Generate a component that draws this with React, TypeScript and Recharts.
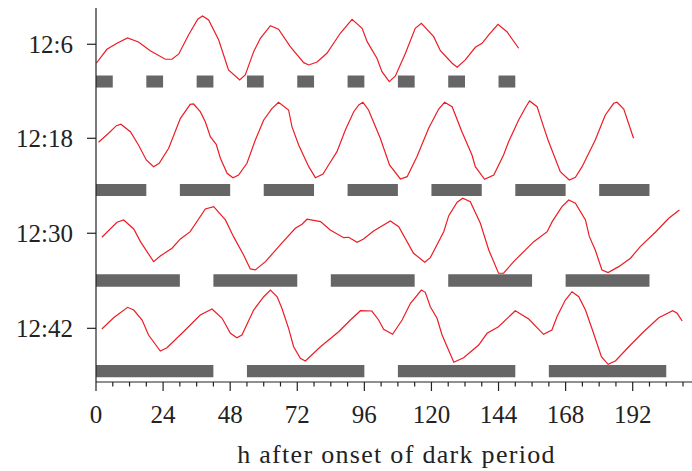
import { ComposedChart, Line, XAxis, YAxis, ReferenceArea, Label } from "recharts";

// hours after onset of dark period, major ticks labelled every 24 h
const HOUR_TICKS = [0, 6, 12, 18, 24, 30, 36, 42, 48, 54, 60, 66, 72, 78, 84, 90, 96, 102, 108, 114, 120, 126, 132, 138, 144, 150, 156, 162, 168, 174, 180, 186, 192, 198, 204, 210];

const PANEL_LABELS = ["12:6", "12:18", "12:30", "12:42"];
// row baselines on the stacked y scale
const PANEL_TICKS = [3.567, 2.574, 1.571, 0.567];
// where the dark-period strip sits in each row
const STRIP_RANGES = [
  [3.11, 3.237],
  [1.964, 2.091],
  [1.006, 1.137],
  [0.049, 0.179],
];

// dark periods [start, end] in hours
const DARK_6 = [[0, 6], [18, 24], [36, 42], [54, 60], [72, 78], [90, 96], [108, 114], [126, 132], [144, 150]];
const DARK_18 = [[0, 18], [30, 48], [60, 78], [90, 108], [120, 138], [150, 168], [180, 198]];
const DARK_30 = [[0, 30], [42, 72], [84, 114], [126, 156], [168, 198]];
const DARK_42 = [[0, 42], [54, 96], [108, 150], [162, 204]];

// rhythm traces [hour, signal] (signal in a.u., relative to row baseline)
const TRACE_6 = [
  [0.1, -19], [3.9, -5], [7.5, 1], [11.3, 6.3], [15.2, 2.3], [19.4, -6.4], [24.8, -15], [27.2, -15],
  [29.6, -9.7], [33.1, 9.3], [36.4, 25], [38.1, 28.3], [40.3, 24.3], [43.9, 4.3], [47.4, -25.7],
  [51.4, -35.7], [53.4, -30.7], [56.4, -7.4], [58.8, 6], [62.4, 18.6], [65.3, 15], [69.5, -2.4],
  [74.3, -18.4], [76.1, -20.7], [79.1, -17.7], [82.6, -9], [87.4, 11], [91.6, 25], [95.2, 16],
  [97, 2.6], [100.5, -14], [102.3, -27.4], [104.9, -37.4], [107.1, -31.7], [110.7, -9], [114.2, 16],
  [116.4, 21], [120.8, 7.6], [123.2, -6.4], [127.4, -19], [129.2, -23], [132.1, -15.7], [135.7, -3],
  [138.1, 1], [140.5, 9.3], [143.8, 20], [147, 12.6], [151.2, -4],
];
const TRACE_18 = [
  [0.9, -4], [4.5, 5], [7.3, 12.6], [8.9, 14], [12.3, 6.6], [15.2, -6.7], [18, -21.7], [20.6, -28.4],
  [22.6, -25], [26, -10], [30.2, 20], [33.7, 34], [34.9, 34.3], [37.3, 26.6], [39.1, 16.6], [40.9, 1.6],
  [43, -6], [44.5, -20], [46.9, -35], [49, -39.4], [51, -36.7], [54, -25], [57, -1.7], [60, 18.3],
  [63, 30], [65.3, 36], [68.9, 28.3], [70.1, 11.6], [72.5, -6.7], [76.1, -28.4], [78.5, -39.4],
  [81.2, -35.7], [83.2, -26.7], [86.2, -13.4], [89.2, 8.3], [92.2, 26.6], [94, 33.3], [95.5, 36],
  [97.5, 28.3], [101.7, 0], [105, -26.7], [108.9, -40.7], [111.3, -38.4], [114.8, -18.4], [119, 10],
  [122.6, 29.3], [124.7, 36], [127.4, 31.6], [130.9, 6.6], [134.5, -16.7], [135.7, -28.4], [139, -41],
  [142.3, -36.7], [145.8, -16.7], [147.6, -3.4], [151.2, 18.3], [153.6, 30.6], [155.1, 37.3],
  [157.8, 31.6], [160.1, 11.6], [161.7, -1.7], [166.1, -33.4], [169.3, -41.7], [171.5, -39],
  [173.9, -28.4], [178.6, -1.7], [182.2, 23.3], [185.2, 35], [186.4, 36], [188.8, 29.3], [192.3, 0],
];
const TRACE_30 = [
  [2.1, -4], [7.5, 11], [9.9, 13.3], [13.5, 4.3], [15.9, -8.4], [20.6, -28.4], [23, -22.7], [27.2, -15],
  [30.2, -5.7], [33.7, 1.6], [39.1, 24.3], [42.1, 26.6], [46.3, 13.3], [49.2, -3.4], [52.8, -21.7],
  [55.2, -35.7], [57, -36.7], [60.6, -28.4], [65.9, -11.7], [71.3, 5], [73.7, 9], [75.5, 14],
  [80.3, 11.6], [83.8, 3.3], [88.6, -4.4], [90.4, -4], [93.4, -9], [95.7, -5.7], [99.3, 2.3],
  [105.3, 12.3], [108.3, 6.6], [113.6, -20], [117.6, -29], [119.6, -24.4], [124.4, 1.6], [126.2, 17.6],
  [129.2, 31], [131.2, 35], [133.9, 31.6], [137.5, 10], [140.5, -16.7], [144, -40], [145.8, -40],
  [149.4, -28.4], [156.6, -8.4], [161.4, 1.6], [163.2, 11.6], [166.7, 26.6], [169.1, 33.3],
  [171.5, 30], [175.1, 13.3], [176.5, -3.4], [178.6, -16.7], [181, -36.7], [183.2, -39.4],
  [187, -33.4], [191.2, -25], [194.7, -13.4], [200.1, 1], [204.9, 15], [208.7, 23.3],
];
const TRACE_42 = [
  [2.1, -0.7], [6.3, 10.6], [11.3, 21], [13.5, 18.3], [16.5, 8.3], [18.8, -6.7], [23, -22.7],
  [25.4, -19.4], [31.3, -3.4], [37.3, 13.3], [41.5, 19.3], [45.1, 10], [48.1, -5], [50.4, -9.4],
  [52.2, -6.7], [56.4, 18.3], [60, 31.6], [62.4, 38.3], [64.8, 31.6], [66.5, 20], [68.9, 0],
  [70.7, -18.4], [73.1, -30], [74.9, -32.7], [80.3, -18.4], [86.8, -3.4], [91, 8.3], [94.6, 17.6],
  [98.7, 17.3], [101.1, 8.3], [102.9, -1], [106.1, -6], [109.5, 8.3], [112.5, 25], [116.4, 38.3],
  [117.8, 36], [119.6, 21.6], [122, 10], [123.8, -6.7], [128, -34], [131.5, -29.4], [136.9, -16.7],
  [139.9, -5], [144, 1.6], [150, 17.6], [154.8, 9.3], [160.1, -6], [163.1, -1.7], [164.9, 11.6],
  [167.9, 28.3], [170.3, 36.6], [172.7, 31.6], [175.1, 18.3], [178, -5], [180.8, -28.4], [183.2, -36],
  [185.8, -32.7], [191.2, -16.7], [195.9, -3.4], [201.3, 10.6], [206.3, 17.6], [207.9, 15], [209.7, 7.3],
];

const TRACES = [TRACE_6, TRACE_18, TRACE_30, TRACE_42];
const DARKS = [DARK_6, DARK_18, DARK_30, DARK_42];

const SIGNAL_SCALE = 1 / 94.7;
const INK = "#222";
const RED = "#ec1c24";

const rows = TRACES.map((trace, i) =>
  trace.map(([h, v]) => ({ h, y: PANEL_TICKS[i] + v * SIGNAL_SCALE }))
);

const HourTick = (props: any) => {
  const { x, y, payload } = props;
  const major = payload.value % 24 === 0;
  return (
    <g>
      <line x1={x} x2={x} y1={y} y2={y + (major ? 9 : 4.5)} stroke={INK} strokeWidth={1.2} />
      {major && (
        <text x={x} y={y + 40.5} textAnchor="middle" fontSize={25} fill={INK}>
          {payload.value}
        </text>
      )}
    </g>
  );
};

export default function App() {
  return (
    <div
      style={{
        position: "absolute",
        left: 0,
        top: 0,
        width: 692,
        height: 471,
        overflow: "hidden",
        background: "#fff",
        fontFamily: "'Liberation Serif', serif",
      }}
    >
      <ComposedChart width={700} height={471} margin={{ top: 8, right: 3, bottom: 0, left: 0 }}>
        <XAxis
          dataKey="h"
          type="number"
          domain={[0, 215]}
          allowDataOverflow
          ticks={HOUR_TICKS}
          interval={0}
          tick={<HourTick />}
          tickLine={false}
          tickSize={0}
          tickMargin={0}
          height={89}
          axisLine={{ stroke: INK, strokeWidth: 1.2 }}
        >
          <Label
            value="h after onset of dark period"
            position="insideBottom"
            offset={8}
            fontSize={26}
            fill={INK}
            style={{ letterSpacing: "1.3px" }}
          />
        </XAxis>
        <XAxis
          xAxisId="top"
          orientation="top"
          dataKey="h"
          type="number"
          domain={[0, 215]}
          height={0}
          tick={false}
          tickLine={false}
          axisLine={{ stroke: INK, strokeWidth: 1.2 }}
        />
        <YAxis
          type="number"
          domain={[0, 3.95]}
          allowDataOverflow
          ticks={PANEL_TICKS}
          interval={0}
          width={96}
          tickSize={9}
          tickMargin={14}
          tickFormatter={(v: number) => PANEL_LABELS[PANEL_TICKS.indexOf(v)] ?? ""}
          tick={{ fontSize: 25, fill: INK }}
          tickLine={{ stroke: INK, strokeWidth: 1.2 }}
          axisLine={{ stroke: INK, strokeWidth: 1.2 }}
        />
        {DARKS.map((periods, i) =>
          periods.map(([a, b]) => (
            <ReferenceArea
              key={`dark-${i}-${a}`}
              x1={a}
              x2={b}
              y1={STRIP_RANGES[i][0]}
              y2={STRIP_RANGES[i][1]}
              fill="#666"
              fillOpacity={1}
              stroke="none"
            />
          ))
        )}
        {rows.map((data, i) => (
          <Line
            key={PANEL_LABELS[i]}
            data={data}
            dataKey="y"
            type="linear"
            stroke={RED}
            strokeWidth={1.2}
            dot={false}
            isAnimationActive={false}
          />
        ))}
      </ComposedChart>
    </div>
  );
}
